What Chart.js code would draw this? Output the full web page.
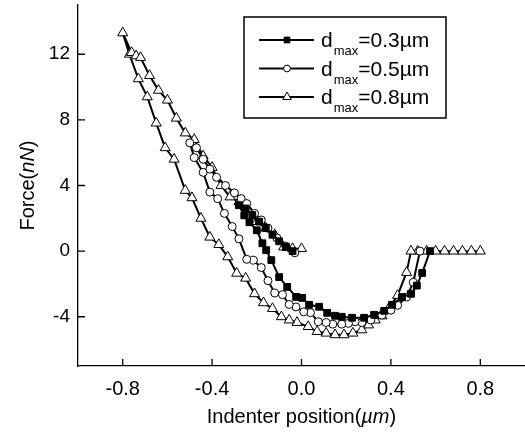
<!DOCTYPE html>
<html>
<head>
<meta charset="utf-8">
<script src="https://cdn.jsdelivr.net/npm/chart.js@4.4.0/dist/chart.umd.min.js"></script>
<style>
  html, body { margin: 0; padding: 0; background: #fff; }
  #wrap { width: 525px; height: 434px; }
</style>
</head>
<body>
<div id="wrap"><canvas id="force-chart"></canvas></div>
<script>
// axis ticks
const xTicks = [-0.8, -0.4, 0.0, 0.4, 0.8];
const yTicks = [-4, 0, 4, 8, 12];

// legend text: d_max = ...
const legendValues = ["=0.3\u00b5m", "=0.5\u00b5m", "=0.8\u00b5m"];

// d_max = 0.3 um (squares): unloading branch then loading branch
const sqX = [0.575, 0.54, 0.516, 0.49, 0.45, 0.405, 0.37, 0.325, 0.28, 0.226, 0.18, 0.15, 0.115, 0.079, 0.034, 0.003, -0.024, -0.064, -0.10, -0.135, -0.158, -0.175, -0.20, -0.233, -0.256, -0.28,
  -0.25, -0.22, -0.19, -0.16, -0.13, -0.10, -0.07, -0.04];
const sqY = [0, -1.33, -2.1, -2.6, -2.8, -3.27, -3.64, -3.88, -4.06, -4.06, -4.0, -3.94, -3.76, -3.39, -3.27, -2.85, -2.79, -2.18, -1.58, -0.55, 0.06, 0.48, 1.27, 1.76, 2.18, 2.8,
  2.6, 2.2, 1.8, 1.4, 1.0, 0.6, 0.25, 0.0];

// d_max = 0.5 um (circles)
const circX = [0.53, 0.50, 0.47, 0.43, 0.40, 0.36, 0.31, 0.27, 0.24, 0.21, 0.18, 0.14, 0.11, 0.075, 0.04, 0.01, -0.025, -0.055, -0.085, -0.12, -0.15, -0.18, -0.215, -0.245, -0.28, -0.31, -0.345, -0.375, -0.41, -0.44, -0.48, -0.50,
  -0.47, -0.44, -0.41, -0.38, -0.34, -0.30, -0.27, -0.245, -0.21, -0.18, -0.15, -0.11, -0.07, -0.03];
const circY = [0, -1.9, -2.8, -3.3, -3.6, -3.9, -4.2, -4.35, -4.3, -4.4, -4.45, -4.45, -4.35, -4.3, -3.75, -3.7, -3.4, -3.25, -2.65, -2.55, -1.8, -1.0, -0.55, -0.5, 0.75, 1.5, 2.3, 3.2, 3.6, 4.8, 5.7, 6.6,
  6.3, 5.6, 5.0, 4.5, 4.0, 3.55, 3.2, 2.9, 2.3, 1.9, 1.4, 0.8, 0.3, -0.1];

// d_max = 0.8 um (triangles)
const triX = [0.80, 0.76, 0.72, 0.68, 0.64, 0.60, 0.56, 0.52, 0.49, 0.47, 0.43, 0.39, 0.36, 0.33, 0.30, 0.27, 0.23, 0.19, 0.15, 0.11, 0.07, 0.03, -0.02, -0.055, -0.09, -0.13, -0.17, -0.21, -0.25, -0.29, -0.33, -0.37, -0.41, -0.45, -0.49, -0.52, -0.57, -0.61, -0.65, -0.69, -0.73, -0.77, -0.80,
  -0.76, -0.74, -0.72, -0.68, -0.64, -0.60, -0.56, -0.52, -0.48, -0.44, -0.40, -0.36, -0.32, -0.28, -0.24, -0.20, -0.16, -0.12, -0.08, -0.04, 0.0];
const triY = [0, 0, 0, 0, 0, 0, 0, 0, 0, -1.3, -2.7, -3.5, -3.95, -4.2, -4.5, -4.8, -5.0, -5.1, -5.1, -5.0, -4.9, -4.6, -4.35, -4.2, -4.0, -3.5, -3.15, -2.6, -1.65, -1.35, -0.35, 0.4, 0.85, 2.0, 3.25, 3.7, 5.6, 6.3, 7.8, 9.4, 10.5, 12.0, 13.3,
  12.1, 11.9, 11.8, 10.7, 9.8, 9.2, 8.1, 7.2, 6.8, 5.8, 5.1, 4.0, 3.3, 3.0, 2.5, 1.8, 1.4, 1.0, 0.25, 0.15, 0.15];

const FONT = "'Liberation Sans', Arial, sans-serif";
const toPoints = (xs, ys) => xs.map((x, i) => ({ x: x, y: ys[i] }));

// ticks pointing into the plot
const innerTicks = {
  id: "innerTicks",
  afterDatasetsDraw(chart) {
    const ctx = chart.ctx;
    const a = chart.chartArea;
    const xs = chart.scales.x;
    const ys = chart.scales.y;
    ctx.save();
    ctx.strokeStyle = "#000";
    ctx.lineWidth = 1.3;
    ctx.beginPath();
    xTicks.forEach((v) => {
      const p = xs.getPixelForValue(v);
      ctx.moveTo(p, a.bottom);
      ctx.lineTo(p, a.bottom - 7);
    });
    yTicks.forEach((v) => {
      const p = ys.getPixelForValue(v);
      ctx.moveTo(a.left, p);
      ctx.lineTo(a.left + 7, p);
    });
    ctx.stroke();
    ctx.restore();
  },
};

// draws text runs with mixed upright / italic parts, centred on (x, y)
function drawRuns(ctx, runs, size, x, y) {
  const fontOf = (r) => (r.italic ? "italic " : "") + size + "px " + FONT;
  let total = 0;
  runs.forEach((r) => {
    ctx.font = fontOf(r);
    total += ctx.measureText(r.t).width;
  });
  let cx = x - total / 2;
  ctx.textBaseline = "middle";
  ctx.textAlign = "left";
  runs.forEach((r) => {
    ctx.font = fontOf(r);
    ctx.fillText(r.t, cx, y);
    cx += ctx.measureText(r.t).width;
  });
}

const axisTitles = {
  id: "axisTitles",
  afterDraw(chart) {
    const ctx = chart.ctx;
    const a = chart.chartArea;
    ctx.save();
    ctx.fillStyle = "#000";
    drawRuns(ctx, [{ t: "Indenter position(" }, { t: "\u00b5m", italic: true }, { t: ")" }], 20,
      (a.left + a.right) / 2, a.bottom + 51);
    ctx.translate(28, (a.top + a.bottom) / 2);
    ctx.rotate(-Math.PI / 2);
    drawRuns(ctx, [{ t: "Force(" }, { t: "nN", italic: true }, { t: ")" }], 20, 0, 0);
    ctx.restore();
  },
};

const boxLegend = {
  id: "boxLegend",
  afterDraw(chart) {
    const ctx = chart.ctx;
    const a = chart.chartArea;
    const left = a.right - 281;
    const top = a.top + 12;
    ctx.save();
    ctx.strokeStyle = "#000";
    ctx.lineWidth = 1.5;
    ctx.strokeRect(left, top, 202, 101);
    chart.data.datasets.forEach((ds, i) => {
      const y = top + 23 + i * 28.5;
      ctx.strokeStyle = "#000";
      ctx.lineWidth = 2;
      ctx.beginPath();
      ctx.moveTo(left + 15, y);
      ctx.lineTo(left + 70, y);
      ctx.stroke();
      ctx.fillStyle = ds.pointBackgroundColor;
      ctx.lineWidth = 1;
      Chart.helpers.drawPoint(ctx, { pointStyle: ds.pointStyle, radius: ds.pointRadius * 0.85, borderWidth: 1, rotation: 0 }, left + 43, y);
      ctx.fillStyle = "#000";
      ctx.textBaseline = "alphabetic";
      ctx.textAlign = "left";
      ctx.font = "21px " + FONT;
      ctx.fillText("d", left + 77, y + 7);
      let cx = left + 77 + ctx.measureText("d").width + 1;
      ctx.font = "13px " + FONT;
      ctx.fillText("max", cx, y + 15);
      cx += ctx.measureText("max").width;
      ctx.font = "21px " + FONT;
      ctx.fillText(legendValues[i], cx, y + 7);
    });
    ctx.restore();
  },
};

const common = {
  showLine: true,
  fill: false,
  borderColor: "#000",
  borderWidth: 2,
  tension: 0,
  pointBorderColor: "#000",
  pointBorderWidth: 1,
};

new Chart(document.getElementById("force-chart").getContext("2d"), {
  type: "scatter",
  data: {
    datasets: [
      Object.assign({ label: "0.3", data: toPoints(sqX, sqY), pointStyle: "rect", pointRadius: 4.8, pointBackgroundColor: "#000" }, common),
      Object.assign({ label: "0.5", data: toPoints(circX, circY), pointStyle: "circle", pointRadius: 4, pointBackgroundColor: "#fff" }, common),
      Object.assign({ label: "0.8", data: toPoints(triX, triY), pointStyle: "triangle", pointRadius: 5.8, pointBackgroundColor: "#fff" }, common),
    ],
  },
  options: {
    responsive: true,
    maintainAspectRatio: false,
    animation: false,
    layout: { autoPadding: false, padding: { top: 5, right: 0, left: 0, bottom: 0 } },
    plugins: {
      legend: { display: false },
      tooltip: { enabled: false },
    },
    scales: {
      x: {
        type: "linear",
        min: -1,
        max: 1,
        afterBuildTicks: (s) => { s.ticks = xTicks.map((v) => ({ value: v })); },
        afterFit: (s) => { s.height = 68; s.paddingLeft = 0; s.paddingRight = 0; },
        grid: { display: false, drawTicks: false },
        border: { display: true, color: "#000", width: 1.3 },
        ticks: { color: "#000", padding: 11, font: { family: FONT, size: 20 }, callback: (v) => Number(v).toFixed(1) },
      },
      y: {
        type: "linear",
        min: -7,
        max: 15,
        afterBuildTicks: (s) => { s.ticks = yTicks.map((v) => ({ value: v })); },
        afterFit: (s) => { s.width = 78; s.paddingTop = 0; s.paddingBottom = 0; },
        grid: { display: false, drawTicks: false },
        border: { display: true, color: "#000", width: 1.3 },
        ticks: { color: "#000", padding: 8, font: { family: FONT, size: 19 }, callback: (v) => String(v) },
      },
    },
  },
  plugins: [innerTicks, axisTitles, boxLegend],
});
</script>
</body>
</html>
